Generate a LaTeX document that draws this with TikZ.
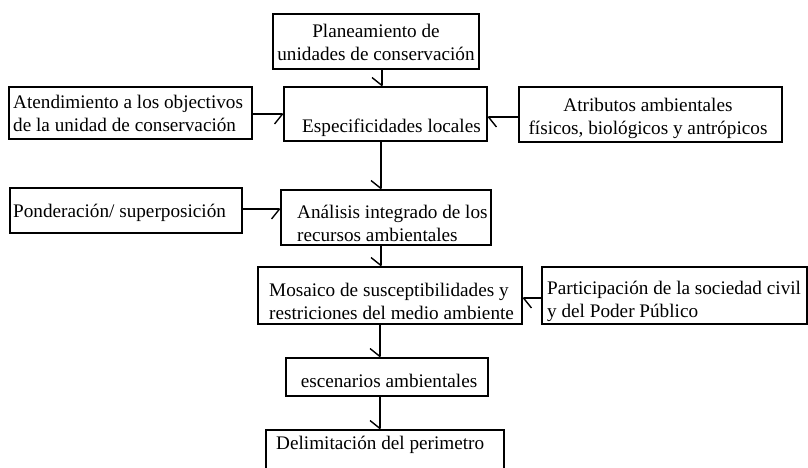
\documentclass[tikz,border=0pt]{standalone}
\usepackage{fontspec}
\setmainfont{Liberation Serif}
\usetikzlibrary{arrows.meta,calc}
\begin{document}
\begin{tikzpicture}[x=1pt,y=-1pt,
  box/.style={draw,line width=1.4pt,inner sep=0pt,outer sep=0pt},
  txt/.style={inner sep=0pt,font=\fontsize{19.2}{23}\selectfont},
  arr/.style={line width=1.4pt,-{Straight Barb[harpoon,swap,length=8pt,width=20pt]}},
  arrs/.style={line width=1.4pt,-{Straight Barb[harpoon,length=8pt,width=20pt]}}]
\useasboundingbox (0,0) rectangle (808,468);
\fill[white] (0,0) rectangle (808,468);
% boxes
\node[box,minimum width=206pt,minimum height=55pt] (plan) at (376,41.5) {};
\node[box,minimum width=203pt,minimum height=54pt] (esp) at (385.5,114) {};
\node[box,minimum width=243pt,minimum height=52pt] (aten) at (130.5,113) {};
\node[box,minimum width=263pt,minimum height=55pt] (atri) at (650.5,114.5) {};
\node[box,minimum width=232pt,minimum height=45pt] (pond) at (126,210.5) {};
\node[box,minimum width=210pt,minimum height=55pt] (anal) at (386,217.5) {};
\node[box,minimum width=264pt,minimum height=57pt] (mos) at (390,295.5) {};
\node[box,minimum width=265pt,minimum height=57pt] (part) at (674.5,295.5) {};
\node[box,minimum width=202pt,minimum height=38pt] (esc) at (387,377) {};
\node[box,minimum width=238pt,minimum height=50pt] (del) at (385,455) {};
% texts
\node[txt,align=center] (tplan) at (376,42) {Planeamiento de\\unidades de conservación};
\node[txt] (tesp) at (391.5,128) {Especificidades locales};
\node[txt,align=left,anchor=west] (taten) at (13,113.5) {Atendimiento a los objectivos\\de la unidad de conservación};
\node[txt,align=center] (tatri) at (648,118) {Atributos ambientales\\físicos, biológicos y antrópicos};
\node[txt,anchor=west] (tpond) at (13,213) {Ponderación/ superposición};
\node[txt,align=left,anchor=west] (tanal) at (297,223.5) {Análisis integrado de los\\recursos ambientales};
\node[txt,align=left,anchor=west] (tmos) at (269,301.5) {Mosaico de susceptibilidades y\\restriciones del medio ambiente};
\node[txt,align=left,anchor=west] (tpart) at (547,301.5) {Participación de la sociedad civil\\y del Poder Público};
\node[txt] (tesc) at (389,381) {escenarios ambientales};
\node[txt,anchor=west] (tdel) at (276,445) {Delimitación del perimetro};
% connectors
\draw[arr] ([xshift=6pt]plan.south) -- ([xshift=6pt]plan.south |- esp.north);
\draw[arr] ([yshift=-1pt]aten.east) -- ([yshift=-1pt]aten.east -| esp.west);
\draw[arrs] ([yshift=-2.5pt]atri.west) -- ([yshift=-2.5pt]atri.west -| esp.east);
\draw[arr] ([xshift=-4.5pt]esp.south) -- ([xshift=-4.5pt]esp.south |- anal.north);
\draw[arr] ([yshift=1.5pt]pond.east) -- ([yshift=1.5pt]pond.east -| anal.west);
\draw[arr] ([xshift=-5pt]anal.south) -- ([xshift=-5pt]anal.south |- mos.north);
\draw[arrs] ([yshift=-2.5pt]part.west) -- ([yshift=-2.5pt]part.west -| mos.east);
\draw[arr] ([xshift=-10pt]mos.south) -- ([xshift=-10pt]mos.south |- esc.north);
\draw[arr] ([xshift=-7pt]esc.south) -- ([xshift=-7pt]esc.south |- del.north);
\end{tikzpicture}
\end{document}
